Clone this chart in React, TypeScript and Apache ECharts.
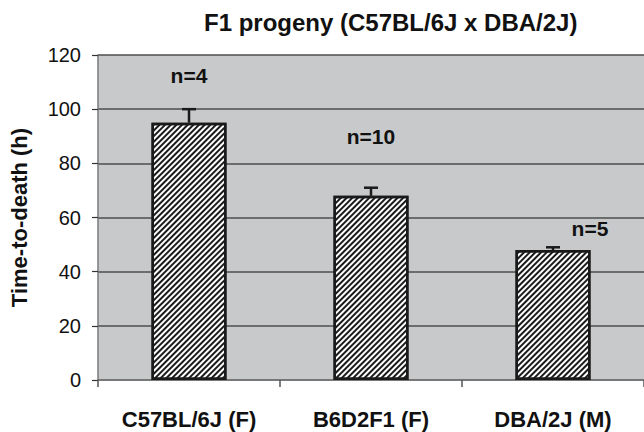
import React, { useEffect, useRef } from "react";
import * as echarts from "echarts";

const categories = ["C57BL/6J (F)", "B6D2F1 (F)", "DBA/2J (M)"];
const meanHours = [95, 68, 48];
const errHours = [5, 3, 1];
const nLabels = ["n=4", "n=10", "n=5"];
const nLabelValues = [112.5, 90, 56];
const yTicks = [0, 20, 40, 60, 80, 100, 120];

const FONT = "'Liberation Sans', Arial, Helvetica, sans-serif";

export default function App() {
  const ref = useRef<HTMLDivElement>(null);
  useEffect(() => {
    document.body.style.margin = "0";
    const chart = echarts.init(ref.current!, null, { renderer: "svg" });
    chart.setOption({
      animation: false,
      backgroundColor: "#ffffff",
      title: {
        text: "F1 progeny (C57BL/6J x DBA/2J)",
        left: 199,
        top: 5,
        textStyle: { fontFamily: FONT, fontSize: 24, fontWeight: "bold", color: "#111" },
      },
      grid: {
        left: 97,
        right: -6,
        top: 55,
        bottom: 52,
        show: true,
        backgroundColor: "#c8c9cb",
        borderWidth: 0,
      },
      xAxis: {
        type: "category",
        data: categories,
        axisLine: { show: true, lineStyle: { color: "#7a7a7a", width: 1.5 } },
        axisTick: { show: true, length: 7, lineStyle: { color: "#555", width: 1.5 } },
        axisLabel: {
          margin: 28,
          fontFamily: FONT,
          fontSize: 22,
          fontWeight: "bold",
          color: "#111",
        },
      },
      yAxis: {
        type: "value",
        min: yTicks[0],
        max: yTicks[yTicks.length - 1],
        interval: 20,
        name: "Time-to-death (h)",
        nameLocation: "middle",
        nameRotate: 90,
        nameGap: 68,
        nameTextStyle: { fontFamily: FONT, fontSize: 22, fontWeight: "bold", color: "#111" },
        axisLine: { show: true, lineStyle: { color: "#7a7a7a", width: 1.5 } },
        axisTick: { show: true, length: 6, lineStyle: { color: "#333", width: 1.2 } },
        axisLabel: { margin: 17, fontFamily: FONT, fontSize: 20, color: "#111" },
        splitLine: { show: true, lineStyle: { color: "#4d4d4d", width: 1.5 } },
      },
      series: [
        {
          type: "bar",
          data: meanHours,
          barWidth: 75,
          itemStyle: {
            color: "#ffffff",
            borderColor: "#1a1a1a",
            borderWidth: 2.5,
            decal: {
              symbol: "rect",
              symbolSize: 1,
              color: "#1a1a1a",
              dashArrayX: [1, 0],
              dashArrayY: [2, 2],
              rotation: -Math.PI / 4,
            },
          },
          z: 2,
        },
        {
          type: "custom",
          data: meanHours.map((m, i) => [i, m, errHours[i]]),
          renderItem: (params: any, api: any) => {
            const i = api.value(0);
            const m = api.value(1);
            const e = api.value(2);
            const base = api.coord([i, m]);
            const top = api.coord([i, m + e]);
            const half = 7;
            return {
              type: "group",
              children: [
                {
                  type: "line",
                  shape: { x1: base[0], y1: base[1], x2: top[0], y2: top[1] },
                  style: { stroke: "#1a1a1a", lineWidth: 2.5 },
                },
                {
                  type: "line",
                  shape: { x1: top[0] - half, y1: top[1], x2: top[0] + half, y2: top[1] },
                  style: { stroke: "#1a1a1a", lineWidth: 2.5 },
                },
              ],
            };
          },
          z: 3,
        },
        {
          type: "scatter",
          symbolSize: 0,
          itemStyle: { opacity: 1 },
          data: nLabelValues.map((v, i) => ({
            value: [i, v],
            label: i === 2 ? { offset: [37, 0] } : undefined,
          })),
          label: {
            show: true,
            position: "inside",
            formatter: (p: any) => nLabels[p.dataIndex],
            fontFamily: FONT,
            fontSize: 21,
            fontWeight: "bold",
            color: "#111",
            opacity: 1,
            textBorderWidth: 0,
          },
          z: 4,
        },
      ],
    });
    return () => chart.dispose();
  }, []);
  return <div ref={ref} style={{ width: 644, height: 432 }} />;
}
